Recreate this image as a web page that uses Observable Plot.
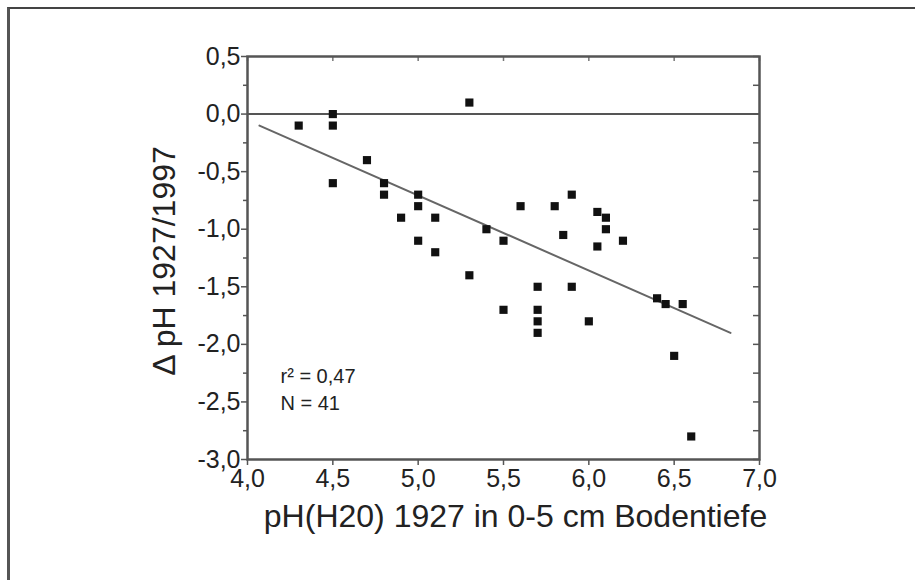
<!DOCTYPE html>
<html>
<head>
<meta charset="utf-8">
<script src="https://cdn.jsdelivr.net/npm/d3@7"></script>
<script src="https://cdn.jsdelivr.net/npm/@observablehq/plot@0.6"></script>
<style>
  html, body { margin: 0; padding: 0; background: #fff; }
  #wrap { position: relative; width: 915px; height: 580px; overflow: hidden; }
  #border { position: absolute; left: 7px; top: 7px; right: -10px; bottom: -10px;
            border-top: 2px solid #444; border-left: 3px solid #555; pointer-events: none; }
</style>
</head>
<body>
<div id="wrap"><div id="border"></div></div>
<script>
// pH(H2O) 1927 values (x) and ΔpH 1927/1997 (y)
const phX = [4.3, 4.5, 4.5, 4.5, 4.7, 4.8, 4.8, 4.9, 5.0, 5.0, 5.0, 5.1, 5.1,
             5.3, 5.3, 5.4, 5.5, 5.5, 5.6, 5.7, 5.7, 5.7, 5.7, 5.8, 5.85,
             5.9, 5.9, 6.0, 6.05, 6.05, 6.1, 6.1, 6.2, 6.4, 6.45, 6.55, 6.5, 6.6];
const deltaPH = [-0.1, 0.0, -0.1, -0.6, -0.4, -0.6, -0.7, -0.9, -0.7, -0.8, -1.1, -0.9, -1.2,
                 0.1, -1.4, -1.0, -1.1, -1.7, -0.8, -1.5, -1.7, -1.8, -1.9, -0.8, -1.05,
                 -0.7, -1.5, -1.8, -0.85, -1.15, -0.9, -1.0, -1.1, -1.6, -1.65, -1.65, -2.1, -2.8];

// regression line end points
const fitX = [4.07, 6.83];
const fitY = [-0.10, -1.90];

const xTicks = [4.0, 4.5, 5.0, 5.5, 6.0, 6.5, 7.0];
const yTicks = [0.5, 0.0, -0.5, -1.0, -1.5, -2.0, -2.5, -3.0];
const yMinorTicks = [0.25, -0.25, -0.75, -1.25, -1.75, -2.25, -2.75];

const yTitle = "Δ pH 1927/1997";
const xTitle = "pH(H20) 1927 in 0-5 cm Bodentiefe";
const statLines = ["r² = 0,47", "N = 41"];

const points = phX.map((x, i) => ({x, y: deltaPH[i]}));
const fit = fitX.map((x, i) => ({x, y: fitY[i]}));
const fmt = d => d.toFixed(1).replace(".", ",");

const W = 915, H = 580, mL = 247, mT = 56, mR = 156, mB = 121;
const innerW = W - mL - mR, innerH = H - mT - mB;

const chart = Plot.plot({
  width: W, height: H,
  marginLeft: mL, marginTop: mT, marginRight: mR, marginBottom: mB,
  style: {fontFamily: "'Liberation Sans', Arial, sans-serif", fontSize: "25px", color: "#222", background: "transparent", overflow: "visible"},
  x: {domain: [4.0, 7.0]},
  y: {domain: [-3.0, 0.5]},
  marks: [
    Plot.ruleY([0], {stroke: "#555", strokeWidth: 2}),
    Plot.line(fit, {x: "x", y: "y", stroke: "#666", strokeWidth: 2}),
    Plot.dot(points, {x: "x", y: "y", symbol: "square", r: 4.6, fill: "#111", stroke: "none"}),
    // inward ticks on the right and top
    Plot.tickY(yTicks.concat(yMinorTicks), {y: d => d, insetLeft: innerW - 6, stroke: "#555", strokeWidth: 1.5}),
    Plot.tickX(xTicks, {x: d => d, insetBottom: innerH - 5, stroke: "#777", strokeWidth: 1.5}),
    Plot.frame({stroke: "#555", strokeWidth: 2.5}),
    Plot.axisY(yTicks, {anchor: "left", tickSize: 6, tickPadding: 1, tickFormat: fmt, label: null, stroke: "#555", strokeWidth: 1.5}),
    Plot.axisY(yMinorTicks, {anchor: "left", tickSize: 4, tickFormat: () => "", label: null, stroke: "#555", strokeWidth: 1.5}),
    Plot.axisX(xTicks, {anchor: "bottom", tickSize: 6, tickPadding: 4, tickFormat: fmt, label: null, stroke: "#555", strokeWidth: 1.5}),
    Plot.text([yTitle], {text: d => d, frameAnchor: "left", textAnchor: "middle", lineAnchor: "middle", rotate: -90, dx: -83, dy: 3, fontSize: 32, fill: "#222"}),
    Plot.text([xTitle], {text: d => d, frameAnchor: "bottom", textAnchor: "middle", lineAnchor: "middle", dy: 57, dx: 12, fontSize: 32, fill: "#222"}),
    Plot.text([statLines[0]], {text: d => d, frameAnchor: "bottom-left", textAnchor: "start", lineAnchor: "middle", dx: 33, dy: -83, fontSize: 20, fill: "#222"}),
    Plot.text([statLines[1]], {text: d => d, frameAnchor: "bottom-left", textAnchor: "start", lineAnchor: "middle", dx: 33, dy: -56, fontSize: 20, fill: "#222"})
  ]
});
document.getElementById("wrap").insertBefore(chart, document.getElementById("border"));
</script>
</body>
</html>
